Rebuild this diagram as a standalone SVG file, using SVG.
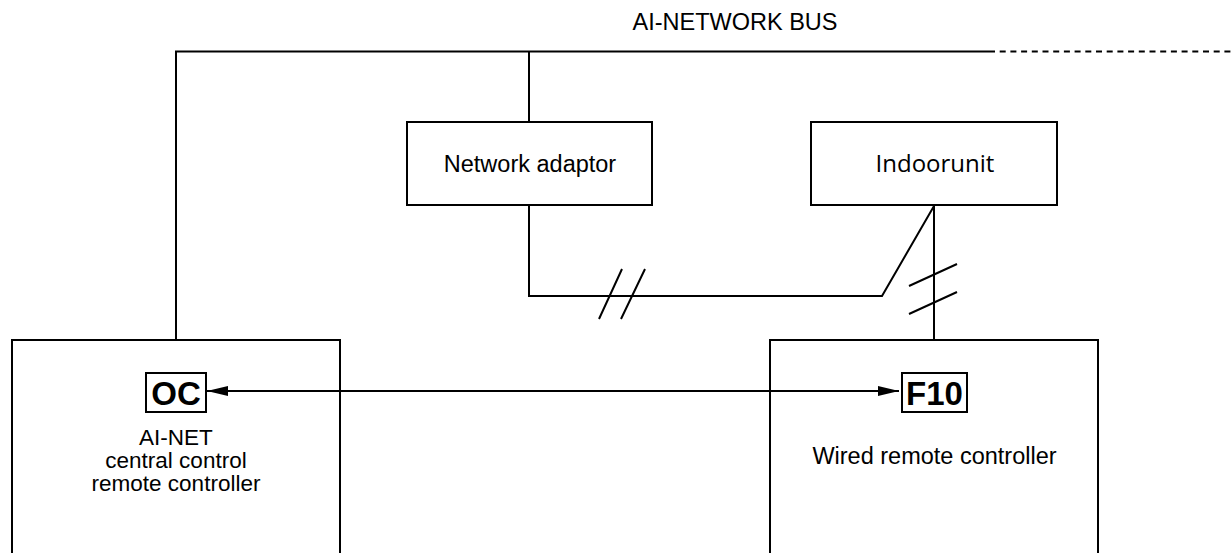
<svg xmlns="http://www.w3.org/2000/svg" width="1231" height="553" viewBox="0 0 1231 553">
<style>
.ln{stroke:#000;stroke-width:2;fill:none}
.bx{stroke:#000;stroke-width:2;fill:none}
.t{font-family:"Liberation Sans",Arial,sans-serif;font-size:23.5px;fill:#000;text-anchor:middle}
.s{font-family:"Liberation Sans",Arial,sans-serif;font-size:22.5px;fill:#000;text-anchor:middle}
.ti{font-family:"Open Sans","Noto Sans",sans-serif;font-size:24px;fill:#000;text-anchor:middle}
.b{font-family:"Liberation Sans",Arial,sans-serif;font-size:33px;font-weight:bold;fill:#000;text-anchor:middle}
</style>
<defs>
<marker id="ah" viewBox="0 0 21 10" refX="21" refY="5" markerWidth="21" markerHeight="10" markerUnits="userSpaceOnUse" orient="auto-start-reverse">
<path d="M0,0 L21,5 L0,10 Z" fill="#000"/>
</marker>
</defs>
<g id="bus-label"><text class="t" x="735" y="30">AI-NETWORK BUS</text></g>
<g id="network-adaptor">
<rect class="bx" x="407" y="122" width="245" height="83"/>
<text class="t" x="530" y="172">Network adaptor</text>
</g>
<g id="indoor-unit">
<rect class="bx" x="811" y="122" width="246" height="83"/>
<text class="ti" x="935" y="172">Indoorunit</text>
</g>
<g id="ai-net-controller">
<rect class="bx" x="12" y="340" width="328" height="230"/>
<rect class="bx" x="146" y="373" width="60" height="39"/>
<text class="b" x="176" y="405">OC</text>
<text class="s" x="176" y="445">AI-NET</text>
<text class="s" x="176" y="468">central control</text>
<text class="s" x="176" y="491">remote controller</text>
</g>
<g id="wired-controller">
<rect class="bx" x="770" y="340" width="328" height="230"/>
<rect class="bx" x="902" y="373" width="65" height="39"/>
<text class="b" x="934.5" y="405">F10</text>
<text class="t" x="934.5" y="464">Wired remote controller</text>
</g>
<g id="connectors">
<path class="ln" d="M176,340 V51.5 H989"/>
<path class="ln" d="M989,51.5 H1231" stroke-dasharray="6 4.7"/>
<path class="ln" d="M529,51.5 V122"/>
<path class="ln" d="M529,205 V296 H882 L934,206"/>
<path class="ln" d="M934,206 V340"/>
<path class="ln" d="M599,319 L622,269 M621,319 L645,269"/>
<path class="ln" d="M909,286 L957,264 M909,314 L957,292"/>
<path class="ln" d="M207,391 H899" marker-start="url(#ah)" marker-end="url(#ah)"/>
</g>
</svg>
